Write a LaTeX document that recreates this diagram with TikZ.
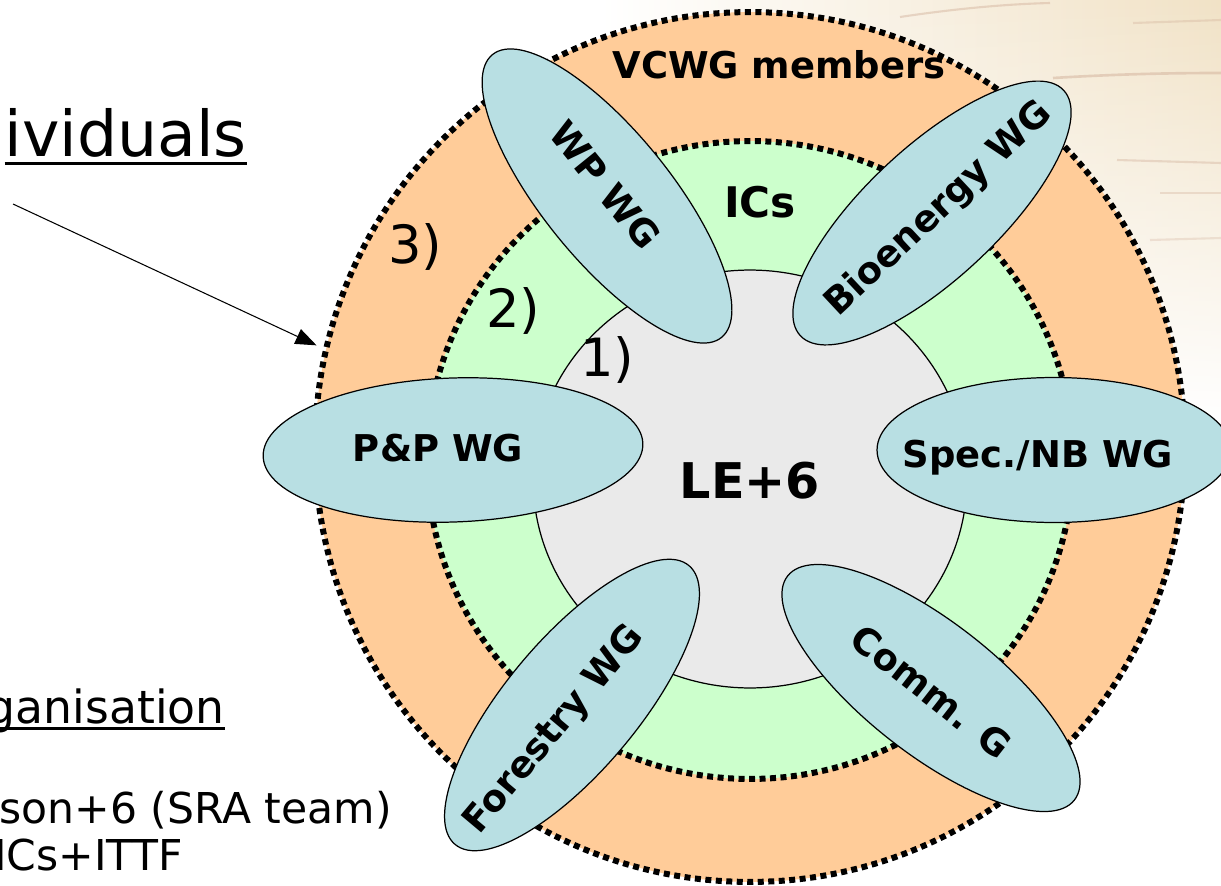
\documentclass[tikz,border=0pt]{standalone}
\usepackage{fontspec}
\setmainfont{DejaVu Sans}
\usepackage{tikz}
\usetikzlibrary{shapes.geometric,arrows.meta,fadings}

\definecolor{ringorange}{HTML}{FFCC99}
\definecolor{ringgreen}{HTML}{CCFFCC}
\definecolor{coregray}{HTML}{EAEAEA}
\definecolor{wgblue}{HTML}{B8DFE3}
\definecolor{woodtan}{HTML}{F1E2C6}
\definecolor{woodline}{HTML}{D2B09A}
\tikzfading[name=fadedown, top color=transparent!0, bottom color=transparent!100]
\newcommand{\ulined}[1]{\setbox0\hbox{#1}\rlap{\rule[-0.15em]{\wd0}{0.06em}}\box0}

\begin{document}
\begin{tikzpicture}[x=0.02cm,y=-0.02cm,
  dots/.style={line width=0.12cm,dash pattern=on 0.12cm off 0.09cm},
  wg/.style={ellipse,draw,line width=0.7pt,fill=wgblue,inner sep=0pt},
  wgname/.style={font=\fontsize{21}{25}\selectfont\bfseries,text height=15pt,text depth=0pt,inner sep=0pt},
  num/.style={font=\fontsize{30}{36}\selectfont,inner sep=0pt,anchor=base west},
  side/.style={font=\fontsize{24.2}{29}\selectfont,inner sep=0pt,anchor=base east}]
\useasboundingbox (0,0) rectangle (1221,886);
\clip (0,0) rectangle (1221,886);
% background
\fill[white] (0,0) rectangle (1221,886);
\shade[left color=white,right color=woodtan,path fading=fadedown] (600,0) rectangle (1221,420);
\draw[woodline,opacity=0.45,line width=1.2pt] (900,17) .. controls (960,8) and (1010,4) .. (1050,3);
\draw[woodline,opacity=0.35,line width=1.2pt] (1133,23) -- (1221,20);
\draw[woodline,opacity=0.5,line width=1.5pt] (1053,78) .. controls (1120,74) and (1170,73) .. (1221,73);
\draw[woodline,opacity=0.4,line width=1.2pt] (1117,160) -- (1221,163);
\draw[woodline,opacity=0.35,line width=1.2pt] (1160,193) -- (1221,193);
\draw[woodline,opacity=0.3,line width=1.2pt] (1150,240) -- (1221,238);

% rings
\node[circle,dots,draw,fill=ringorange,minimum size=17.4cm] (vcwg) at (750,447) {};
\node[ellipse,dots,draw,fill=ringgreen,minimum width=12.92cm,minimum height=12.76cm] (ics) at (750,460) {};
\node[ellipse,draw,line width=0.7pt,fill=coregray,minimum width=8.68cm,minimum height=8.36cm] (core) at (750,479) {};

\node[font=\fontsize{21}{25}\selectfont\bfseries,anchor=base] (vcwgname) at (779,78) {VCWG members};
\node[font=\fontsize{24}{29}\selectfont\bfseries,anchor=base] (icsname) at (760,217) {ICs};
\node[font=\fontsize{28}{34}\selectfont\bfseries,anchor=base] (corename) at (750,498) {LE+6};

% working groups
\node[wg,minimum width=7.28cm,minimum height=2.56cm,rotate=-51] (wp) at (607,196) {};
\node[wg,minimum width=7.2cm,minimum height=2.64cm,rotate=43] (bio) at (932,213) {};
\node[wg,minimum width=7.6cm,minimum height=2.88cm,rotate=2] (pp) at (453,450) {};
\node[wg,minimum width=7.08cm,minimum height=2.9cm] (spec) at (1054,450) {};
\node[wg,minimum width=7.28cm,minimum height=2.64cm,rotate=50] (forestry) at (572,705) {};
\node[wg,minimum width=7.28cm,minimum height=2.64cm,rotate=-38] (comm) at (931,688) {};

\node[wgname,rotate=-51] (wpname) at (605,185) {WP WG};
\node[wgname,rotate=43] (bioname) at (937,207) {Bioenergy WG};
\node[wgname] (ppname) at (438,448) {P\&P WG};
\node[wgname] (specname) at (1038,454) {Spec./NB WG};
\node[wgname,rotate=50] (forestryname) at (552,728) {Forestry WG};
\node[wgname,rotate=-38] (commname) at (931,692) {Comm. G};

\node[num] (three) at (388,263) {3)};
\node[num] (two) at (486,327) {2)};
\node[num] (one) at (580,376) {1)};

% left side
\node[side,font=\fontsize{36}{43}\selectfont] (indiv) at (247,156) {\ulined{ividuals}};
\node[side,font=\fontsize{26}{31}\selectfont] (organ) at (225,723) {\ulined{ganisation}};
\node[side] (team) at (392,823) {son+6 (SRA team)};
\node[side] (ittf) at (183,870) {ICs+ITTF};

\coordinate (from) at (13,204);
\draw[-{Triangle[length=0.42cm,width=0.32cm]},line width=0.6pt,shorten >=0.15cm] (from) -- (vcwg.167);
\end{tikzpicture}
\end{document}
